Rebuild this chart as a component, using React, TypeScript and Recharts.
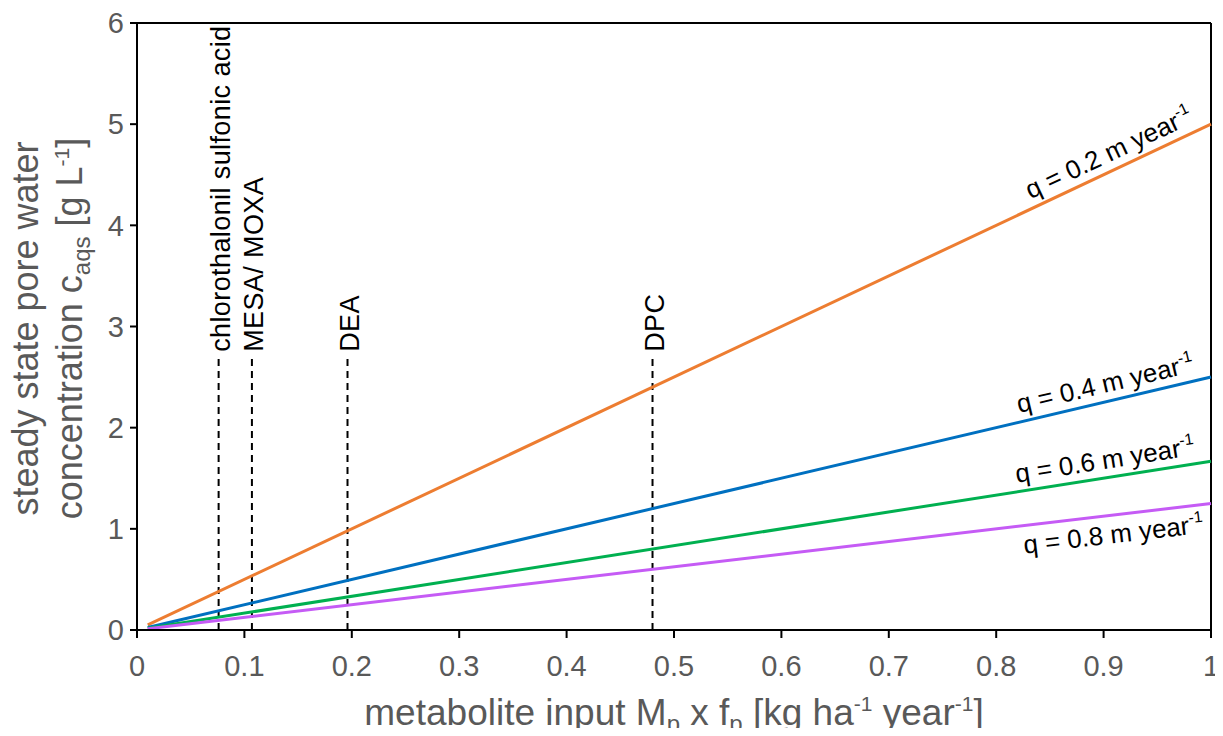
import React from 'react';
import { LineChart, Line, XAxis, YAxis, ReferenceLine } from 'recharts';

// x values where the four curves are evaluated
const xInput = [0.01, 1];

// steady state concentration [g/L] for each percolation rate
const q02 = [0.05, 5];
const q04 = [0.025, 2.5];
const q06 = [0.0167, 1.667];
const q08 = [0.0125, 1.25];

const xTicks = [0, 0.1, 0.2, 0.3, 0.4, 0.5, 0.6, 0.7, 0.8, 0.9, 1];
const yTicks = [0, 1, 2, 3, 4, 5, 6];

// metabolite markers (dashed verticals)
const markerNames = ['chlorothalonil sulfonic acid', 'MESA/ MOXA', 'DEA', 'DPC'];
const markerX = [0.076, 0.107, 0.196, 0.48];
const markerTop = 2.7;

const W = 1223;
const H = 736;
const MARGIN = { top: 23, right: 12, left: 0, bottom: 0 };
const Y_AXIS_W = 137;
const X_AXIS_H = 106;
const PLOT_W = W - MARGIN.left - MARGIN.right - Y_AXIS_W;
const PLOT_H = H - MARGIN.top - MARGIN.bottom - X_AXIS_H;
const X_MAX = 1;
const Y_MAX = 6;

const FONT = '"Liberation Sans", Arial, sans-serif';
const GREY = '#595959';

const chartData = xInput.map((x, i) => ({
  x,
  q02: q02[i],
  q04: q04[i],
  q06: q06[i],
  q08: q08[i],
}));

const series = [
  { key: 'q02', label: 'q = 0.2 m year', values: q02, color: '#ED7D31', below: false },
  { key: 'q04', label: 'q = 0.4 m year', values: q04, color: '#0070C0', below: false },
  { key: 'q06', label: 'q = 0.6 m year', values: q06, color: '#00B050', below: false },
  { key: 'q08', label: 'q = 0.8 m year', values: q08, color: '#C55BF5', below: true },
];

// on-screen angle of a straight series
const angleOf = (vals: number[]) => {
  const slope = (vals[1] - vals[0]) / (xInput[1] - xInput[0]);
  const pxSlope = (slope * PLOT_H / Y_MAX) / (PLOT_W / X_MAX);
  return (Math.atan(pxSlope) * 180) / Math.PI;
};

const makeLineLabel = (text: string, vals: number[], below: boolean) => (props: any) => {
  const { x, y, index } = props;
  if (index !== xInput.length - 1) return null;
  const a = angleOf(vals);
  return (
    <text
      transform={`translate(${x}, ${y}) rotate(${-a})`}
      x={below ? -10 : -14}
      y={below ? 28 : -9}
      textAnchor="end"
      fontSize={26}
      fontFamily={FONT}
      fill="#000"
    >
      {text}
      <tspan dy={-11} fontSize={16}>-1</tspan>
    </text>
  );
};

const MarkerLabel = ({ viewBox, text }: any) => {
  if (!viewBox) return null;
  const cx = viewBox.x + 2;
  const top = viewBox.y - 5;
  return (
    <text
      transform={`translate(${cx}, ${top}) rotate(-90)`}
      textAnchor="start"
      dominantBaseline="central"
      fontSize={27}
      letterSpacing={0.4}
      fontFamily={FONT}
      fill="#000"
    >
      {text}
    </text>
  );
};

const XTitle = ({ viewBox }: any) => {
  if (!viewBox) return null;
  const cx = viewBox.x + viewBox.width / 2;
  const y = viewBox.y + 95;
  return (
    <text x={cx} y={y} textAnchor="middle" fontSize={37} fontFamily={FONT} fill={GREY}>
      metabolite input M
      <tspan dy={7} fontSize={24}>p</tspan>
      <tspan dy={-7}> x f</tspan>
      <tspan dy={7} fontSize={24}>p</tspan>
      <tspan dy={-7}> [kg ha</tspan>
      <tspan dy={-14} fontSize={21}>-1</tspan>
      <tspan dy={14}> year</tspan>
      <tspan dy={-14} fontSize={21}>-1</tspan>
      <tspan dy={14}>]</tspan>
    </text>
  );
};

const YTitle = () => {
  const cy = MARGIN.top + PLOT_H / 2 + 2;
  return (
    <g fontFamily={FONT} fill={GREY} fontSize={36}>
      <text transform={`translate(38, ${cy}) rotate(-90)`} textAnchor="middle">
        steady state pore water
      </text>
      <text transform={`translate(82, ${cy}) rotate(-90)`} textAnchor="middle">
        concentration c
        <tspan dy={8} fontSize={24}>aqs</tspan>
        <tspan dy={-8}> [g L</tspan>
        <tspan dy={-13} fontSize={21}>-1</tspan>
        <tspan dy={13}>]</tspan>
      </text>
    </g>
  );
};

const fmtX = (v: number) => String(Number(v.toFixed(1)));

export default function App() {
  return (
    <div style={{ width: W, height: H, margin: -8, background: '#fff' }}>
      <LineChart width={W} height={H} data={chartData} margin={MARGIN}>
        <XAxis
          type="number"
          dataKey="x"
          domain={[0, X_MAX]}
          ticks={xTicks}
          tickFormatter={fmtX}
          height={X_AXIS_H}
          axisLine={{ stroke: '#000', strokeWidth: 2 }}
          tickLine={{ stroke: '#000', strokeWidth: 2 }}
          tickSize={8}
          tickMargin={17}
          tick={{ fontSize: 29, fill: GREY, fontFamily: FONT }}
          interval={0}
          label={<XTitle />}
        />
        <YAxis
          type="number"
          domain={[0, Y_MAX]}
          ticks={yTicks}
          width={Y_AXIS_W}
          axisLine={{ stroke: '#000', strokeWidth: 2 }}
          tickLine={{ stroke: '#000', strokeWidth: 2 }}
          tickSize={7}
          tickMargin={6}
          tick={{ fontSize: 29, fill: GREY, fontFamily: FONT }}
          interval={0}
          label={<YTitle />}
        />
        <ReferenceLine y={Y_MAX} stroke="#000" strokeWidth={2} />
        <ReferenceLine x={X_MAX} stroke="#000" strokeWidth={2} />
        {markerX.map((mx, i) => (
          <ReferenceLine
            key={markerNames[i]}
            segment={[{ x: mx, y: 0 }, { x: mx, y: markerTop }]}
            stroke="#000"
            strokeWidth={2}
            strokeDasharray="7 5"
            label={<MarkerLabel text={markerNames[i]} />}
          />
        ))}
        {series.map(s => (
          <Line
            key={s.key}
            type="linear"
            dataKey={s.key}
            stroke={s.color}
            strokeWidth={3}
            dot={false}
            activeDot={false}
            isAnimationActive={false}
            label={makeLineLabel(s.label, s.values, s.below)}
          />
        ))}
      </LineChart>
    </div>
  );
}
